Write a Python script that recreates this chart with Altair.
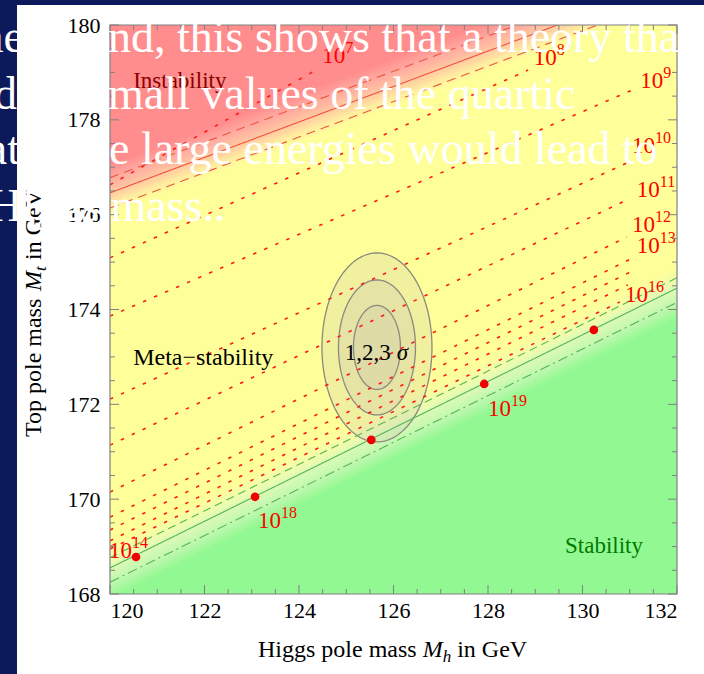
import numpy as np
import pandas as pd
import altair as alt

# ---------------- layout ----------------
W, H = 567, 569
PAD_L, PAD_T, PAD_R, PAD_B = 110, 25, 27, 80
FONT = "Liberation Serif"
NAVY = "#0c1a5b"
YELLOW = "#ffff99"
GREEN = "#92f892"
PINK = "#ff8d8d"

# ---------------- data ----------------
x_ticks = [120, 122, 124, 126, 128, 130, 132]
y_ticks = [168, 170, 172, 174, 176, 178, 180]
x_minor = [120.5 + 0.5 * i for i in range(23) if (120.5 + 0.5 * i) not in x_ticks]
y_minor = [168.5 + 0.5 * i for i in range(23) if (168.5 + 0.5 * i) not in y_ticks]

# stability bound (green) lines: id, endpoints
green_id = ["solid", "dash", "dashdot"]
green_mh0 = [120.0, 120.0, 120.0]
green_mt0 = [168.55, 168.77, 168.25]
green_mh1 = [132.0, 132.0, 132.0]
green_mt1 = [174.45, 174.67, 174.15]

# instability bound (red) lines
red_id = ["solid", "up", "down"]
red_mh0 = [120.0, 120.0, 120.0]
red_mt0 = [176.46, 176.78, 176.14]
red_mh1 = [129.47, 128.61, 130.32]
red_mt1 = [180.0, 180.0, 180.0]

# instability-scale contours (red dotted)
dot_id = ["7", "8", "9", "10", "11", "12", "13", "14", "15", "16"]
dot_mh0 = [120.0] * 10
dot_mt0 = [176.63, 175.09, 173.86, 172.11, 171.14, 170.15, 169.62, 169.35, 169.12, 168.95]
dot_mh1 = [124.36, 128.85, 131.15, 130.94, 130.94, 130.94, 131.07, 131.01, 130.96, 130.79]
dot_mt1 = [179.05, 179.05, 178.67, 177.09, 176.31, 175.53, 175.09, 174.79, 174.52, 174.16]

# contour labels 10^n
lab_exp = ["7", "8", "9", "10", "11", "12", "13", "16", "19", "18", "14"]
lab_mh = [124.49, 128.97, 131.22, 131.05, 131.15, 131.05, 131.15, 130.90, 128.00, 123.13, 119.98]
lab_mt = [179.20, 179.16, 178.67, 177.30, 176.37, 175.63, 175.19, 174.16, 171.75, 169.39, 168.76]

# red points on the stability line
pt_mh = [120.55, 123.07, 125.53, 127.92, 130.24]
pt_mt = [168.78, 170.05, 171.25, 172.43, 173.57]

# 1,2,3 sigma ellipses
ell_cx, ell_cy = 125.65, 173.2
ell_a = [0.497, 0.815, 1.164]
ell_b = [0.886, 1.423, 1.993]

# slide text overlay (white)
slide_txt = ["the", "nd, this shows that a theory that", "and", "mall values of the quartic",
             "that", "e large energies would lead to", "Higgs mass.."]
slide_x = [24, 108, 17, 108, 20, 109, -11]
slide_y = [52, 52, 109, 109, 164, 164, 221]
slide_align = ["right", "left", "right", "left", "right", "left", "left"]

# ---------------- helpers ----------------
xs = alt.Scale(domain=[120, 132], nice=False, zero=False)
ys = alt.Scale(domain=[168, 180], nice=False, zero=False)
xaxis = alt.Axis(values=x_ticks, title=None, grid=False, domain=False, ticks=False,
                 labelFont=FONT, labelFontSize=22, labelColor="black", labelPadding=6, format="d")
yaxis = alt.Axis(values=y_ticks, title=None, grid=False, domain=False, ticks=False,
                 labelFont=FONT, labelFontSize=22, labelColor="black", labelPadding=10, format="d")


def ex(f):
    return alt.X(f, type="quantitative", scale=xs, axis=xaxis)


def ey(f):
    return alt.Y(f, type="quantitative", scale=ys, axis=yaxis)


dummy = pd.DataFrame({"d": [0]})


def grad(a, b, c, stops, box):
    """linear gradient whose isolines follow v = a*mh + b*mt + c, in bbox units"""
    mh0, mh1, mt0, mt1 = box
    gu, gw = a * (mh1 - mh0), -b * (mt1 - mt0)
    n2 = gu * gu + gw * gw
    v00 = a * mh0 + b * mt1 + c
    vs, ve = stops[0][0], stops[-1][0]
    p1u, p1w = gu * (vs - v00) / n2, gw * (vs - v00) / n2
    p2u, p2w = p1u + gu * (ve - vs) / n2, p1w + gw * (ve - vs) / n2
    return alt.Gradient(gradient="linear", x1=p1u, y1=p1w, x2=p2u, y2=p2w,
                        stops=[alt.GradientStop(color=col, offset=(v - vs) / (ve - vs)) for v, col in stops])


def segs(ids, a0, b0, a1, b1):
    rows = []
    for i, x0, y0, x1, y1 in zip(ids, a0, b0, a1, b1):
        rows += [{"id": i, "mh": x0, "mt": y0}, {"id": i, "mh": x1, "mt": y1}]
    return pd.DataFrame(rows)


def ptext(txt, x, y, size, color="black", align="left", angle=0, style="normal"):
    return alt.Chart(dummy).mark_text(text=txt, font=FONT, fontSize=size, color=color, align=align,
                                      baseline="alphabetic", angle=angle, fontStyle=style).encode(
        x=alt.value(x - PAD_L), y=alt.value(y - PAD_T))


layers = []

# ---- green (stability) region with soft edge ----
gs = (green_mt1[0] - green_mt0[0]) / (green_mh1[0] - green_mh0[0])
g_c = -(green_mt0[0] - gs * green_mh0[0])
gdf = pd.DataFrame({"mh": [green_mh0[0], green_mh1[0]],
                    "top": [green_mt0[0] + 0.5, green_mt1[0] + 0.5], "bot": [168, 168]})
gstops = [(0.5, YELLOW), (0.15, "#eefcae"), (0.0, "#dcfab6"), (-0.3, "#c2f8b0"), (-0.65, GREEN)]
gbox = (120, 132, 168, max(gdf["top"]))
layers.append(alt.Chart(gdf).mark_area(color=grad(-gs, 1, g_c, gstops, gbox)).encode(
    x=ex("mh"), y=ey("top"), y2="bot"))

# ---- pink (instability) region with soft edge ----
rs = (red_mt1[0] - red_mt0[0]) / (red_mh1[0] - red_mh0[0])
r_c = -(red_mt0[0] - rs * red_mh0[0])
low = red_mt0[0] - 0.45
x_hit = 120 + (180 - low) / rs
pdf = pd.DataFrame({"mh": [120, x_hit], "top": [180, 180], "bot": [low, 180]})
pstops = [(-0.45, YELLOW), (-0.25, "#ffeea0"), (0.0, "#ffc9a2"), (0.3, "#ffaaa0"), (0.6, PINK)]
pbox = (120, x_hit, low, 180)
layers.append(alt.Chart(pdf).mark_area(color=grad(-rs, 1, r_c, pstops, pbox)).encode(
    x=ex("mh"), y=ey("top"), y2="bot"))

# ---- ellipses ----
line_rows = []
th_half = np.linspace(0, np.pi, 91)
th_full = np.linspace(0, 2 * np.pi, 181)
for k, (a, b) in enumerate(zip(ell_a, ell_b)):
    sub = pd.DataFrame({"mh": ell_cx + a * np.cos(th_half),
                        "up": ell_cy + b * np.sin(th_half),
                        "lo": ell_cy - b * np.sin(th_half)})
    layers.append(alt.Chart(sub).mark_area(fill="#c4c2b4", fillOpacity=0.24, orient="vertical").encode(
        x=ex("mh"), y=ey("up"), y2=alt.Y2("lo:Q")))
    for i, t in enumerate(th_full):
        line_rows.append({"k": k, "i": i, "mh": ell_cx + a * np.cos(t), "mt": ell_cy + b * np.sin(t)})
layers.append(alt.Chart(pd.DataFrame(line_rows)).mark_line(color="#8a8a7e", strokeWidth=1.3).encode(
    x=ex("mh"), y=ey("mt"), detail="k:N", order=alt.Order("i:Q")))

# ---- red dotted contours ----
layers.append(alt.Chart(segs(dot_id, dot_mh0, dot_mt0, dot_mh1, dot_mt1)).mark_line(
    color="#ff1a1a", strokeDash=[3.5, 8.5], strokeWidth=1.6, clip=True).encode(
    x=ex("mh"), y=ey("mt"), detail="id:N"))

# ---- green lines ----
gl = segs(green_id, green_mh0, green_mt0, green_mh1, green_mt1)
gstyle = {"solid": [1, 0], "dash": [8, 5], "dashdot": [10, 4, 2, 4]}
for gid in green_id:
    layers.append(alt.Chart(gl[gl["id"] == gid]).mark_line(
        color="#55b555", strokeWidth=1.1, strokeDash=gstyle[gid], clip=True).encode(
        x=ex("mh"), y=ey("mt")))

# ---- red boundary lines ----
rl = segs(red_id, red_mh0, red_mt0, red_mh1, red_mt1)
rstyle = {"solid": [1, 0], "up": [9, 6], "down": [9, 6]}
for rid in red_id:
    layers.append(alt.Chart(rl[rl["id"] == rid]).mark_line(
        color="#ee5540", strokeWidth=1.1, strokeDash=rstyle[rid], clip=True).encode(
        x=ex("mh"), y=ey("mt")))

# ---- red points ----
layers.append(alt.Chart(pd.DataFrame({"mh": pt_mh, "mt": pt_mt})).mark_circle(
    size=75, color="#f00000", opacity=1).encode(x=ex("mh"), y=ey("mt")))

# ---- contour labels ----
ldf = pd.DataFrame({"mh": lab_mh, "mt": lab_mt, "e": lab_exp, "b": ["10"] * len(lab_exp)})
layers.append(alt.Chart(ldf).mark_text(font=FONT, fontSize=23, color="#ff0000", align="left",
                                       baseline="alphabetic").encode(x=ex("mh"), y=ey("mt"), text="b:N"))
layers.append(alt.Chart(ldf).mark_text(font=FONT, fontSize=16, color="#ff0000", align="left",
                                       baseline="alphabetic", dx=23, dy=-10).encode(
    x=ex("mh"), y=ey("mt"), text="e:N"))

# ---- region labels ----
region_txt = ["Instability", "Meta\u2212stability", "Stability", "1,2,3"]
region_mh = [120.49, 120.49, 129.63, 124.97]
region_mt = [178.67, 172.83, 168.86, 172.93]
region_col = ["#8a0000", "#000000", "#007a00", "#000000"]
region_size = [23, 24, 23, 23]
for t, m, tt, c, s in zip(region_txt, region_mh, region_mt, region_col, region_size):
    layers.append(alt.Chart(pd.DataFrame({"mh": [m], "mt": [tt], "t": [t]})).mark_text(
        font=FONT, fontSize=s, color=c, align="left", baseline="alphabetic").encode(
        x=ex("mh"), y=ey("mt"), text="t:N"))
layers.append(alt.Chart(pd.DataFrame({"mh": [region_mh[3]], "mt": [region_mt[3]], "t": ["\u03c3"]})).mark_text(
    font=FONT, fontSize=23, color="black", align="left", baseline="alphabetic", fontStyle="italic", dx=52).encode(
    x=ex("mh"), y=ey("mt"), text="t:N"))

# ---- frame and ticks ----
layers.append(alt.Chart(dummy).mark_rect(fillOpacity=0, stroke="#808080", strokeWidth=1.2).encode(
    x=alt.value(0), x2=alt.value(W), y=alt.value(0), y2=alt.value(H)))
for vals, ln in [(x_ticks, 9), (x_minor, 5)]:
    d = pd.DataFrame({"v": vals})
    layers.append(alt.Chart(d).mark_rule(color="#808080", strokeWidth=1).encode(
        x=ex("v"), y=alt.value(H), y2=alt.value(H - ln)))
    layers.append(alt.Chart(d).mark_rule(color="#808080", strokeWidth=1).encode(
        x=ex("v"), y=alt.value(0), y2=alt.value(ln)))
for vals, ln in [(y_ticks, 9), (y_minor, 5)]:
    d = pd.DataFrame({"v": vals})
    layers.append(alt.Chart(d).mark_rule(color="#808080", strokeWidth=1).encode(
        y=ey("v"), x=alt.value(0), x2=alt.value(ln)))
    layers.append(alt.Chart(d).mark_rule(color="#808080", strokeWidth=1).encode(
        y=ey("v"), x=alt.value(W), x2=alt.value(W - ln)))

# ---- axis titles (rich text pieces) ----
layers += [
    ptext("Higgs pole mass", 258, 657, 24),
    ptext("M", 422.7, 657, 24, style="italic"),
    ptext("h", 442.7, 662, 17, style="italic"),
    ptext("in GeV", 457.2, 657, 24),
    ptext("Top pole mass", 41, 437, 24, angle=270),
    ptext("M", 41, 291, 24, angle=270, style="italic"),
    ptext("t", 46, 271, 17, angle=270, style="italic"),
    ptext("in GeV", 41, 260, 24, angle=270),
]

# ---- slide frame (navy strips) ----
layers.append(alt.Chart(dummy).mark_rect(color=NAVY).encode(
    x=alt.value(-PAD_L), x2=alt.value(17 - PAD_L), y=alt.value(-PAD_T), y2=alt.value(H + PAD_B)))
layers.append(alt.Chart(dummy).mark_rect(color=NAVY).encode(
    x=alt.value(-PAD_L), x2=alt.value(W + PAD_R), y=alt.value(-PAD_T), y2=alt.value(5 - PAD_T)))

# ---- white slide text on top ----
for t, x, y, al in zip(slide_txt, slide_x, slide_y, slide_align):
    layers.append(ptext(t, x, y, 46, color="white", align=al))

chart = alt.layer(*layers).properties(
    width=W, height=H,
    padding={"left": PAD_L, "top": PAD_T, "right": PAD_R, "bottom": PAD_B},
    autosize=alt.AutoSizeParams(type="none"),
    background="white",
).configure_view(fill=YELLOW, stroke=None)

chart.save("out.html", embed_options={"renderer": "svg", "actions": False})
